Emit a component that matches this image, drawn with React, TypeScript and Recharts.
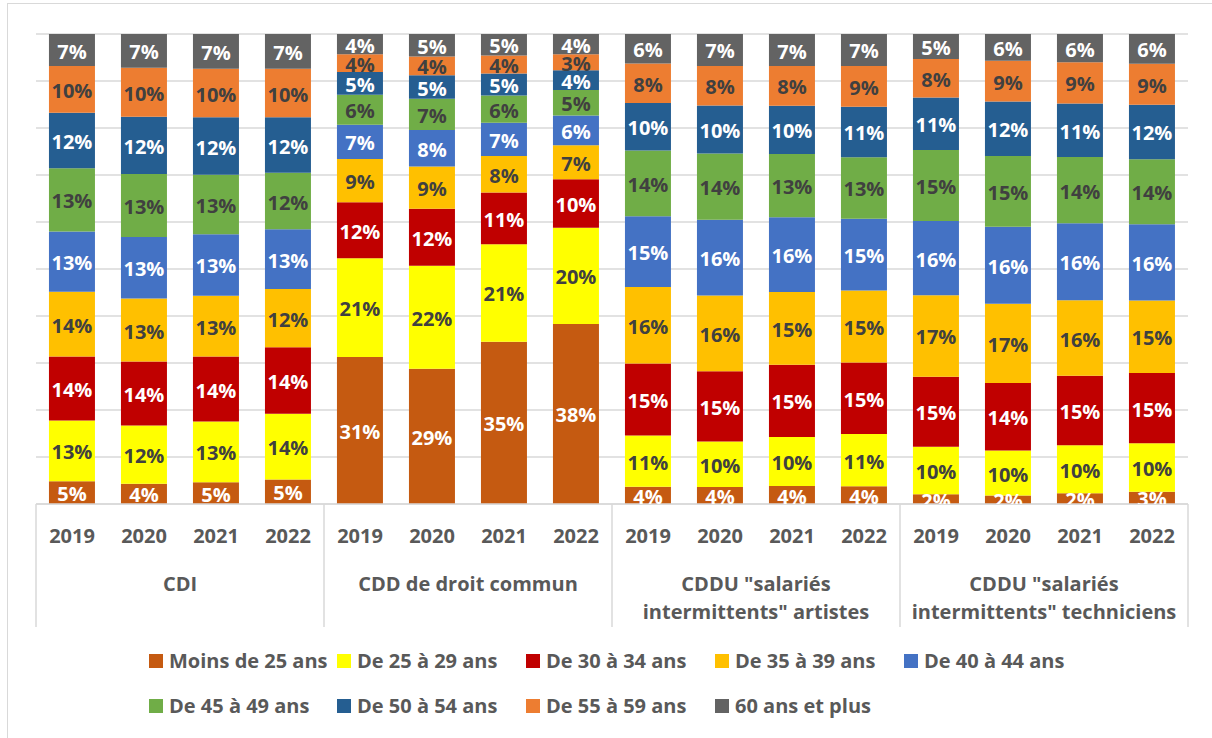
import React from 'react';
import { BarChart, Bar, XAxis, YAxis, CartesianGrid, Legend, LabelList } from 'recharts';

const years = ['2019', '2020', '2021', '2022'];
const groupLabels: string[][] = [
  ['CDI'],
  ['CDD de droit commun'],
  ['CDDU "salariés', 'intermittents" artistes'],
  ['CDDU "salariés', 'intermittents" techniciens'],
];

// 16 values per series: CDI 2019-2022, CDD 2019-2022, CDDU artistes 2019-2022, CDDU techniciens 2019-2022
const moins25 = [4.8, 4.3, 4.6, 5.2, 31.3, 28.8, 34.6, 38.2, 3.7, 3.6, 3.8, 3.8, 2.1, 1.8, 2.3, 2.6];
const de25a29 = [12.9, 12.4, 12.9, 14.0, 21.0, 21.9, 20.8, 20.4, 10.9, 9.7, 10.4, 11.1, 10.1, 9.6, 10.2, 10.3];
const de30a34 = [13.6, 13.6, 13.8, 14.1, 11.9, 12.1, 11.0, 10.3, 15.3, 14.9, 15.3, 15.2, 14.9, 14.4, 14.8, 14.9];
const de35a39 = [13.7, 13.4, 12.9, 12.4, 9.2, 9.0, 7.8, 7.2, 16.3, 16.1, 15.4, 15.3, 17.3, 16.9, 16.1, 15.4];
const de40a44 = [12.8, 13.1, 13.1, 12.7, 7.3, 7.8, 7.1, 6.3, 15.1, 16.1, 15.8, 15.3, 15.8, 16.4, 16.4, 16.2];
const de45a49 = [13.4, 13.4, 12.6, 12.0, 6.4, 6.6, 5.8, 5.4, 14.0, 14.1, 13.4, 13.1, 15.1, 15.1, 14.1, 13.8];
const de50a54 = [11.8, 12.2, 12.2, 11.8, 4.8, 5.0, 4.7, 4.2, 10.1, 10.2, 10.2, 10.7, 11.2, 11.6, 11.4, 11.6];
const de55a59 = [9.9, 10.4, 10.3, 10.3, 3.8, 4.0, 3.8, 3.4, 8.4, 8.4, 8.4, 8.7, 8.2, 8.7, 8.8, 8.7];
const plus60 = [6.8, 7.2, 7.4, 7.4, 4.3, 4.8, 4.6, 4.3, 6.3, 6.8, 6.8, 6.8, 5.3, 5.7, 6.0, 6.3];

const seriesNames = [
  'Moins de 25 ans',
  'De 25 à 29 ans',
  'De 30 à 34 ans',
  'De 35 à 39 ans',
  'De 40 à 44 ans',
  'De 45 à 49 ans',
  'De 50 à 54 ans',
  'De 55 à 59 ans',
  '60 ans et plus',
];
const seriesValues = [moins25, de25a29, de30a34, de35a39, de40a44, de45a49, de50a54, de55a59, plus60];
const seriesColors = ['#C55A11', '#FFFF00', '#C00000', '#FFC000', '#4472C4', '#70AD47', '#255E91', '#ED7D31', '#636363'];
const labelColors = ['#FFFFFF', '#404040', '#FFFFFF', '#404040', '#FFFFFF', '#404040', '#FFFFFF', '#404040', '#FFFFFF'];

const FONT = '"Open Sans", "DejaVu Sans", sans-serif';
const TEXT_GRAY = '#595959';
const LINE_GRAY = '#D9D9D9';

const data = groupLabels.flatMap((g, gi) =>
  years.map((y, yi) => {
    const idx = gi * years.length + yi;
    const row: Record<string, any> = { id: `${gi}-${y}`, year: y, group: gi };
    seriesNames.forEach((name, si) => {
      row[`s${si}`] = seriesValues[si][idx];
    });
    return row;
  })
);

const AxisTick = (props: any) => {
  const { x, y, payload } = props;
  const i = payload.index;
  const row = data[i];
  if (!row) return null;
  const half = payload.offset || 36;
  const yi = i % years.length;
  const lines = groupLabels[row.group];
  const groupCenter = x - half - yi * 2 * half + years.length * half;
  return (
    <g>
      <text
        x={x}
        y={y + 31}
        textAnchor="middle"
        dominantBaseline="central"
        fill={TEXT_GRAY}
        fontFamily={FONT}
        fontWeight={700}
        fontSize={20}
      >
        {row.year}
      </text>
      {yi === 0 && (
        <line x1={x - half} x2={x - half} y1={y} y2={y + 123} stroke={LINE_GRAY} strokeWidth={1.5} />
      )}
      {i === data.length - 1 && (
        <line x1={x + half} x2={x + half} y1={y} y2={y + 123} stroke={LINE_GRAY} strokeWidth={1.5} />
      )}
      {yi === 0 &&
        lines.map((l, li) => (
          <text
            key={li}
            x={groupCenter}
            y={y + 79 + li * 28}
            textAnchor="middle"
            dominantBaseline="central"
            fill={TEXT_GRAY}
            fontFamily={FONT}
            fontWeight={700}
            fontSize={20}
          >
            {l}
          </text>
        ))}
    </g>
  );
};

const makeLabel = (si: number) => (props: any) => {
  const x = Number(props.x);
  const y = Number(props.y);
  const w = Number(props.width);
  const h = Number(props.height);
  const value = Number(props.value);
  if (!isFinite(value)) return null;
  const t = (
    <text
      x={x + w / 2}
      y={y + h / 2 + 1}
      textAnchor="middle"
      dominantBaseline="central"
      fill={labelColors[si]}
      fontFamily={FONT}
      fontWeight={700}
      fontSize={20}
    >
      {`${Math.round(value)}%`}
    </text>
  );
  if (si !== 0) return t;
  const id = `lblclip-${props.index}`;
  return (
    <g>
      <defs>
        <clipPath id={id}>
          <rect x={x - 30} y={y - 80} width={w + 60} height={h + 80} />
        </clipPath>
      </defs>
      <g clipPath={`url(#${id})`}>{t}</g>
    </g>
  );
};

const legendColumns = [149, 337, 526, 715, 904];
const legendRowGap = 45;

const LegendContent = () => {
  return (
    <div style={{ position: 'relative', width: 1212, height: 90 }}>
      {seriesNames.map((name, i) => {
        const col = i % legendColumns.length;
        const row = Math.floor(i / legendColumns.length);
        return (
          <div
            key={name}
            style={{
              position: 'absolute',
              left: legendColumns[col],
              top: row * legendRowGap,
              height: 30,
              display: 'flex',
              alignItems: 'center',
              whiteSpace: 'nowrap',
            }}
          >
            <span style={{ display: 'inline-block', width: 14, height: 14, background: seriesColors[i], marginRight: 6 }} />
            <span style={{ fontFamily: FONT, fontWeight: 700, fontSize: 20, color: TEXT_GRAY, lineHeight: '30px' }}>
              {name}
            </span>
          </div>
        );
      })}
    </div>
  );
};

export default function App() {
  return (
    <div style={{ position: 'absolute', left: 0, top: 0, width: 1212, height: 738, overflow: 'hidden', background: '#fff' }}>
      <div
        style={{
          position: 'absolute',
          left: 7,
          top: 3,
          width: 1240,
          height: 760,
          border: `1px solid ${LINE_GRAY}`,
          boxSizing: 'border-box',
        }}
      />
      <div style={{ position: 'absolute', left: 0, top: 0 }}>
        <BarChart
          width={1212}
          height={738}
          data={data}
          stackOffset="expand"
          barCategoryGap="18%"
          margin={{ top: 34, right: 24, bottom: 0, left: 36 }}
        >
          <CartesianGrid vertical={false} stroke={LINE_GRAY} strokeWidth={1.5} />
          <YAxis hide domain={[0, 1]} ticks={[0, 0.1, 0.2, 0.3, 0.4, 0.5, 0.6, 0.7, 0.8, 0.9, 1]} width={0} />
          <XAxis
            dataKey="id"
            interval={0}
            height={234}
            tickLine={false}
            tickSize={0}
            tickMargin={0}
            axisLine={{ stroke: LINE_GRAY, strokeWidth: 1.5 }}
            tick={<AxisTick />}
          />
          <Legend
            layout="horizontal"
            verticalAlign="middle"
            align="center"
            wrapperStyle={{ left: 0, top: 646, width: 1212, height: 90 }}
            content={<LegendContent />}
          />
          {seriesNames.map((name, si) => (
            <Bar
              key={name}
              dataKey={`s${si}`}
              name={name}
              stackId="a"
              fill={seriesColors[si]}
              isAnimationActive={false}
            >
              <LabelList dataKey={`s${si}`} content={makeLabel(si)} />
            </Bar>
          ))}
        </BarChart>
      </div>
    </div>
  );
}
